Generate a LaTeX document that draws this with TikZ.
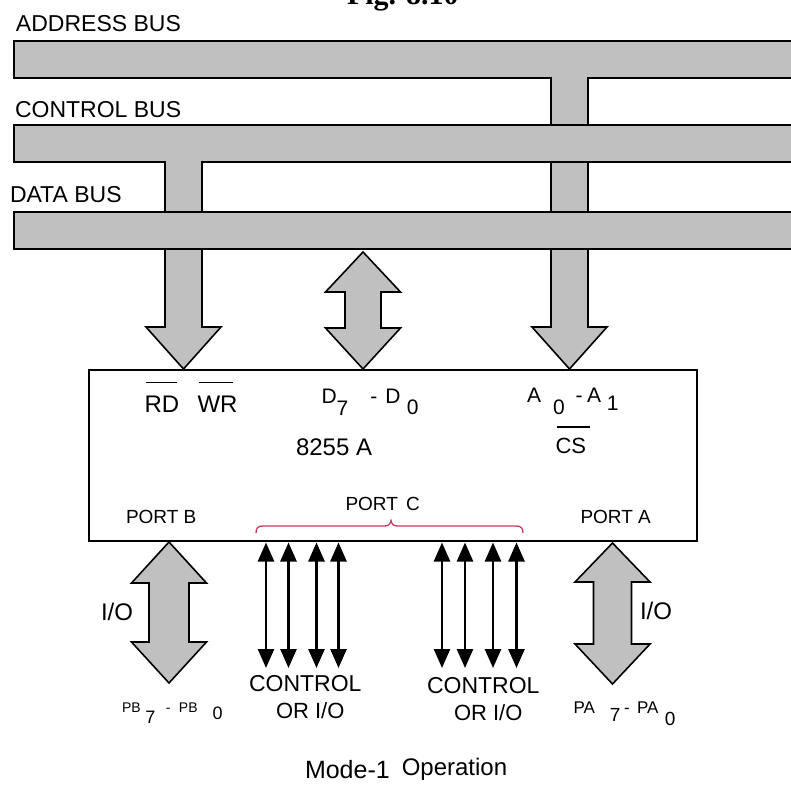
\documentclass[tikz,border=0pt]{standalone}
\usepackage{fontspec}
\setmainfont{Liberation Sans}
\newfontfamily\titlefont{Liberation Serif}
\usetikzlibrary{arrows.meta}
\definecolor{busgray}{RGB}{192,192,192}
\definecolor{bracered}{RGB}{196,58,96}
\newcommand\fsz[1]{\fontsize{#1}{#1}\selectfont}
% fat single-headed arrow: centre x, top y, head base y, tip y
\newcommand\fatdown[4]{\draw[fat] (#1-18.5,#2) -- (#1-18.5,#3) -- (#1-37.5,#3) -- (#1,#4) -- (#1+37.5,#3) -- (#1+18.5,#3) -- (#1+18.5,#2);}
% fat double-headed arrow: centre x, shaft half width, top tip, top base, bottom base, bottom tip
\newcommand\fatboth[6]{\draw[fat] (#1,#3) -- (#1+37.5,#4) -- (#1+#2,#4) -- (#1+#2,#5) -- (#1+37.5,#5) -- (#1,#6) -- (#1-37.5,#5) -- (#1-#2,#5) -- (#1-#2,#4) -- (#1-37.5,#4) -- cycle;}
\begin{document}
\begin{tikzpicture}[x=1pt,y=-1pt,
  fat/.style={fill=busgray,draw=black,line width=1.6pt},
  bus/.style={fill=busgray,draw=black,line width=1.6pt,anchor=north west,inner sep=0pt,outer sep=0pt,minimum width=786pt,minimum height=37pt},
  lbl/.style={inner sep=0pt,outer sep=0pt,anchor=base west},
  io/.style={line width=2.6pt,{Triangle[length=19pt,width=16pt]}-{Triangle[length=19pt,width=16pt]}},
  ovl/.style={line width=1.6pt}]
\useasboundingbox (0,0) rectangle (791,786);
\clip (0,0) rectangle (791,786);

% title (cut at the top)
\node[lbl,font=\titlefont\bfseries\fsz{30}] (title) at (347,5) {Fig. 8.10};

% bus labels
\node[lbl,font=\fsz{23}] (addrlbl) at (16,32) {ADDRESS BUS};
\node[lbl,font=\fsz{23}] (ctrllbl) at (15,118) {CONTROL BUS};
\node[lbl,font=\fsz{23}] (datalbl) at (10,203) {DATA BUS};

% stems from the buses
\fatdown{569.5}{60}{327}{369}
\fatdown{183.5}{143}{327}{369}

% buses
\node[bus] (addrbus) at (14,41) {};
\fill[busgray] (551.8,70) rectangle (587.2,79.4);
\node[bus] (ctrlbus) at (14,125) {};
\fill[busgray] (165.8,150) rectangle (201.2,163.4);
\node[bus] (databus) at (14,212) {};

% data bus <-> chip
\fatboth{363}{18}{252}{292}{328}{369}

% 8255A chip
\node[draw=black,line width=1.6pt,anchor=north west,inner sep=0pt,outer sep=0pt,
      minimum width=608pt,minimum height=171pt] (chip) at (89,370) {};

% texts inside the chip
\node[lbl,font=\fsz{24}] (rd) at (144.5,412.5) {RD};
\draw[ovl] (146,382.5) -- (177,382.5);
\node[lbl,font=\fsz{24}] (wr) at (197.5,412.5) {WR};
\draw[ovl] (199,382.5) -- (233,382.5);
\node[lbl,font=\fsz{21}] (dlines) at (321.5,403) {D\raisebox{-12pt}{7}\hspace{22pt}-\hspace{8pt}D\hspace{6.4pt}\raisebox{-11pt}{0}};
\node[lbl,font=\fsz{21}] (alines) at (527,402) {A\hspace{12pt}\raisebox{-12pt}{0}\hspace{11pt}-\hspace{4.4pt}A\hspace{5.7pt}\raisebox{-8pt}{1}};
\node[lbl,font=\fsz{22}] (cs) at (555.5,453) {CS};
\draw[ovl] (557,427) -- (590,427);
\node[lbl,font=\fsz{24}] (name) at (296,455.5) {8255 A};
\node[lbl,font=\fsz{19}] (portb) at (126,523) {PORT B};
\node[lbl,font=\fsz{19}] (portc) at (345.5,510) {PORT\hspace{3pt} C};
\node[lbl,font=\fsz{19}] (porta) at (580.5,523) {PORT A};

% port C brace
\draw[bracered,line width=1.3pt] (256,533) .. controls (256,528) and (258,526) .. (263,526) -- (384,526)
  .. controls (388,526) and (390,525) .. (391,520.5) .. controls (392,525) and (394,526) .. (398,526)
  -- (516,526) .. controls (521,526) and (523,528) .. (523,533);

% port B and port A
\fatboth{169}{20}{542}{583}{642}{683}
\fatboth{612.5}{19}{543}{582}{644}{684}
\node[lbl,font=\fsz{24}] (iob) at (101,620) {I/O};
\node[lbl,font=\fsz{24}] (ioa) at (640,619) {I/O};
\node[lbl,font=\fsz{14}] (pb) at (122,712.5) {PB\hspace{4.7pt}\raisebox{-10.5pt}{\fsz{18}7}\hspace{10.6pt}-\hspace{8.3pt}PB\hspace{15pt}\raisebox{-6.5pt}{\fsz{18}0}};
\node[lbl,font=\fsz{17}] (pa) at (573.5,713) {PA\hspace{14.9pt}\raisebox{-8.7pt}{\fsz{19}7}\hspace{3.8pt}-\hspace{7.3pt}PA\hspace{6.4pt}\raisebox{-12pt}{\fsz{19}0}};

% port C lines
\foreach \x in {266,288.5,316.5,338.5,442,465,493,516.5}
  \draw[io,shorten <=1.5pt] (\x,0 |- chip.south) -- (\x,668);
\node[lbl,font=\fsz{23}] (ctl1) at (249,691) {CONTROL};
\node[lbl,font=\fsz{22}] (orio1) at (276,718) {OR I/O};
\node[lbl,font=\fsz{23}] (ctl2) at (427,693) {CONTROL};
\node[lbl,font=\fsz{22}] (orio2) at (454,720) {OR I/O};

% caption
\node[lbl,font=\fsz{25}] (caption) at (305,778) {Mode-1\hspace{12pt}\raisebox{3pt}{\fsz{24}Operation}};
\end{tikzpicture}
\end{document}
